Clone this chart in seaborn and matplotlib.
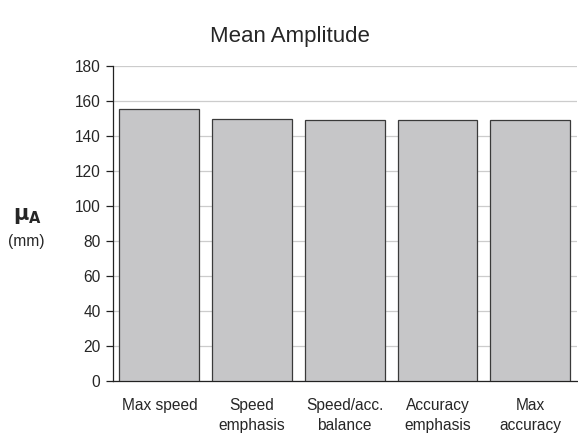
import numpy as np
import pandas as pd
import matplotlib
matplotlib.use("Agg")
import matplotlib.pyplot as plt
import seaborn as sns

# data
conditions = ["Max speed", "Speed\nemphasis", "Speed/acc.\nbalance", "Accuracy\nemphasis", "Max\naccuracy"]
mean_amp = [155.2, 149.8, 149.4, 149.4, 149.0]
y_ticks = list(range(0, 181, 20))

df = pd.DataFrame({"condition": conditions, "amp": mean_amp})

sns.set_style("white")
plt.rcParams['font.family'] = ['Liberation Sans', 'DejaVu Sans']

fig = plt.figure(figsize=(5.78, 4.34), dpi=100)
ax = fig.add_axes([0.1955, 0.1221, 0.802, 0.7259])

sns.barplot(x="condition", y="amp", data=df, color="#c6c6c8", saturation=1,
            edgecolor="#3a3a3a", linewidth=0.9, width=0.86, ax=ax, zorder=3)

ax.set_ylim(0, 180)
ax.set_xlim(-0.5, 4.5)
ax.set_yticks(y_ticks)
ax.yaxis.grid(True, color="#cccccc", linewidth=0.9, zorder=0)
ax.set_axisbelow(True)

for s in ["top", "right"]:
    ax.spines[s].set_visible(False)
for s in ["left", "bottom"]:
    ax.spines[s].set_color("#222222")
    ax.spines[s].set_linewidth(0.9)

# category labels centred, tick marks at category boundaries
ax.set_xticks(np.arange(-0.5, 5.0, 1.0), minor=True)
ax.tick_params(axis="x", which="major", length=0, pad=12.5, labelsize=11.2)
ax.tick_params(axis="x", which="minor", length=5, width=0.9, color="#222222", direction="out")
ax.tick_params(axis="y", length=5, width=0.9, color="#222222", direction="out", left=True, labelsize=11.2, pad=4)
for lab in ax.get_xticklabels():
    lab.set_linespacing(1.35)

ax.set_xlabel("")
ax.set_ylabel("")

fig.text(0.502, 0.915, "Mean Amplitude", ha="center", va="center", fontsize=16)
fig.text(0.047, 0.503, r"$\mathbf{\mu_A}$", ha="center", va="center", fontsize=15)
fig.text(0.046, 0.443, "(mm)", ha="center", va="center", fontsize=11.2)

fig.savefig("out.png", dpi=100)
